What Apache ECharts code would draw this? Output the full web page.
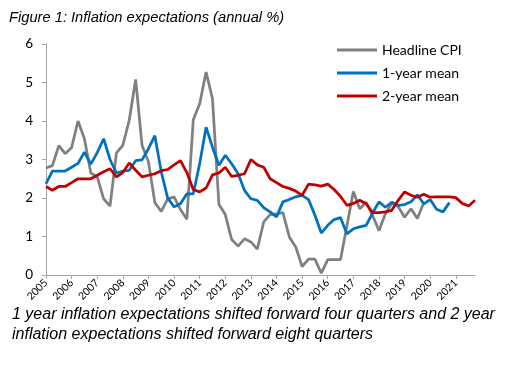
<!DOCTYPE html>
<html>
<head>
<meta charset="utf-8">
<script src="https://cdn.jsdelivr.net/npm/echarts@6/dist/echarts.min.js"></script>
<style>html,body{margin:0;padding:0;background:#fff}#c{width:508px;height:373px}</style>
</head>
<body>
<div id="c"></div>
<script>
var years = ['2005','2006','2007','2008','2009','2010','2011','2012','2013','2014','2015','2016','2017','2018','2019','2020','2021'];
var quarters = [];
years.forEach(function (y) { for (var q = 1; q <= 4; q++) quarters.push(y + 'Q' + q); });

var headlineCPI = [2.78,2.84,3.36,3.15,3.31,4.0,3.54,2.65,2.55,1.98,
  1.79,3.17,3.37,4.02,5.08,3.37,2.94,1.88,1.65,1.97,
  2.03,1.70,1.45,4.03,4.45,5.27,4.58,1.84,1.57,0.92,
  0.75,0.94,0.86,0.67,1.38,1.57,1.59,1.62,0.99,0.73,
  0.22,0.41,0.41,0.05,0.40,0.40,0.40,1.28,2.17,1.72,
  1.89,1.55,1.15,1.59,1.86,1.78,1.50,1.72,1.47,1.88];
var oneYearMean = [2.37,2.70,2.70,2.70,2.80,2.90,3.19,2.88,3.18,3.54,
  3.00,2.65,2.70,2.72,2.97,2.99,3.28,3.62,2.68,2.00,
  1.77,1.85,2.11,2.11,2.89,3.84,3.32,2.85,3.11,2.89,
  2.63,2.20,1.98,1.94,1.75,1.64,1.51,1.90,1.96,2.03,
  2.07,1.96,1.55,1.09,1.29,1.44,1.49,1.07,1.20,1.25,
  1.29,1.61,1.90,1.76,1.89,1.81,1.83,1.90,2.08,1.85,
  1.96,1.71,1.64,1.88];
var twoYearMean = [2.30,2.20,2.30,2.30,2.40,2.50,2.50,2.50,2.59,2.68,
  2.76,2.55,2.66,2.91,2.72,2.55,2.59,2.63,2.71,2.74,
  2.86,2.97,2.66,2.22,2.16,2.26,2.60,2.65,2.80,2.56,
  2.59,2.63,3.00,2.86,2.80,2.50,2.40,2.30,2.25,2.18,
  2.07,2.36,2.34,2.31,2.36,2.22,2.04,1.81,1.86,1.94,
  1.85,1.62,1.62,1.64,1.68,1.94,2.16,2.07,2.02,2.10,
  2.02,2.03,2.03,2.03,2.01,1.86,1.79,1.94];
var yTicks = [0, 6, 1];

var chart = echarts.init(document.getElementById('c'), null, {renderer: 'canvas'});
var axisCol = '#a6a6a6';
var font = 'Lato, "Open Sans", sans-serif';
chart.setOption({
  animation: false,
  backgroundColor: '#fff',
  grid: {left: 46, right: 33, top: 44, bottom: 98, containLabel: false},
  graphic: [
    {type: 'text', left: 9, top: 10, style: {text: 'Figure 1: Inflation expectations (annual %)', font: 'italic 14.7px "Liberation Sans", Arial, sans-serif', fill: '#000'}},
    {type: 'text', left: 12, top: 305, style: {text: '1 year inflation expectations shifted forward four quarters and 2 year\ninflation expectations shifted forward eight quarters', font: 'italic 16px "Liberation Sans", Arial, sans-serif', fill: '#000', lineHeight: 20}}
  ],
  legend: {
    orient: 'vertical', left: 332, top: 38, itemWidth: 40, itemHeight: 3, itemGap: 9,
    icon: 'rect',
    textStyle: {fontSize: 14, fontFamily: font, color: '#000'},
    data: ['Headline CPI', '1-year mean', '2-year mean']
  },
  xAxis: {
    type: 'category', data: quarters, boundaryGap: false,
    axisLine: {lineStyle: {color: axisCol, width: 1}},
    axisTick: {interval: 3, length: 4, lineStyle: {color: axisCol}},
    axisLabel: {interval: 3, rotate: 45, fontSize: 10.5, fontFamily: font, color: '#000', margin: 6,
      formatter: function (v) { return v.slice(0, 4); }},
    splitLine: {show: false}
  },
  yAxis: {
    type: 'value', min: yTicks[0], max: yTicks[1], interval: yTicks[2],
    axisLine: {show: true, lineStyle: {color: axisCol, width: 1}},
    axisTick: {show: true, length: 4, lineStyle: {color: axisCol}},
    axisLabel: {fontSize: 13.5, fontFamily: font, color: '#000', margin: 13},
    splitLine: {show: false}
  },
  series: [
    {name: 'Headline CPI', type: 'line', data: headlineCPI, symbol: 'none', lineStyle: {color: '#808080', width: 2.75}, itemStyle: {color: '#808080'}},
    {name: '1-year mean', type: 'line', data: oneYearMean, symbol: 'none', lineStyle: {color: '#0070C0', width: 2.75}, itemStyle: {color: '#0070C0'}},
    {name: '2-year mean', type: 'line', data: twoYearMean, symbol: 'none', lineStyle: {color: '#C00000', width: 2.75}, itemStyle: {color: '#C00000'}}
  ]
});
</script>
</body>
</html>
